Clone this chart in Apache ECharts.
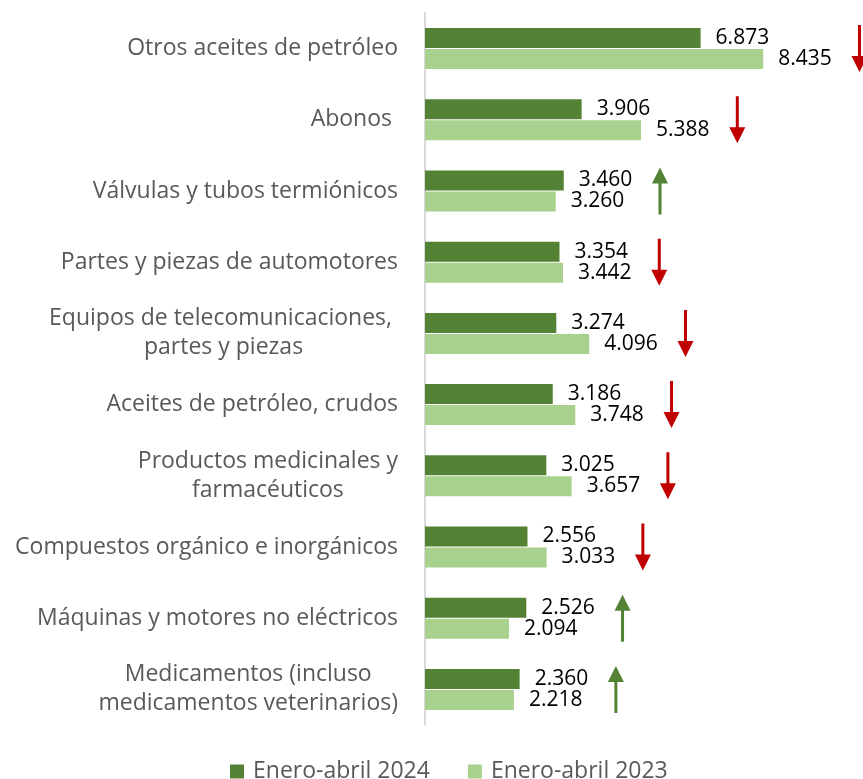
<!DOCTYPE html>
<html>
<head>
<meta charset="utf-8">
<script src="https://cdn.jsdelivr.net/npm/echarts@6/dist/echarts.min.js"></script>
<style>
  html, body { margin: 0; padding: 0; background: #fff; }
  #main { width: 863px; height: 779px; }
</style>
</head>
<body>
<div id="main"></div>
<script>
// datos (millones), de arriba hacia abajo
var categorias = [
  'Otros aceites de petróleo',
  'Abonos ',
  'Válvulas y tubos termiónicos',
  'Partes y piezas de automotores',
  'Equipos de telecomunicaciones, \npartes y piezas',
  'Aceites de petróleo, crudos',
  'Productos medicinales y\nfarmacéuticos',
  'Compuestos orgánico e inorgánicos',
  'Máquinas y motores no eléctricos',
  'Medicamentos (incluso\nmedicamentos veterinarios)'
];
var valores2024 = [6873, 3906, 3460, 3354, 3274, 3186, 3025, 2556, 2526, 2360];
var valores2023 = [8435, 5388, 3260, 3442, 4096, 3748, 3657, 3033, 2094, 2218];
var nombres = ['Enero-abril 2024', 'Enero-abril 2023'];

var verdeOscuro = '#548235';
var verdeClaro = '#A9D18E';
var rojo = '#C00000';

function fmt(v) {
  return String(v).replace(/\B(?=(\d{3})+(?!\d))/g, '.');
}

// flechas: sube (verde) o baja (rojo) respecto a 2023
var flecha = 'path://M8,0 L16,16 L9.5,16 L9.5,47 L6.5,47 L6.5,16 L0,16 Z';
var flechas = categorias.map(function (c, i) {
  var sube = valores2024[i] > valores2023[i];
  return {
    value: [Math.max(valores2024[i], valores2023[i]) + 2400, i],
    symbolRotate: sube ? 0 : 180,
    itemStyle: { color: sube ? verdeOscuro : rojo, opacity: 1 }
  };
});

var myChart = echarts.init(document.getElementById('main'));
myChart.setOption({
  animation: false,
  grid: { left: 425, right: 37, top: 13, bottom: 54, containLabel: false },
  legend: {
    data: nombres,
    bottom: -9,
    left: 225,
    itemWidth: 14,
    itemHeight: 14,
    itemGap: 38,
    icon: 'rect',
    textStyle: { color: '#595959', fontSize: 23, fontFamily: 'Open Sans', padding: [0, 0, 0, 4] }
  },
  xAxis: {
    type: 'value',
    min: 0,
    max: 10000,
    show: false,
    splitLine: { show: false }
  },
  yAxis: {
    type: 'category',
    inverse: true,
    data: categorias,
    axisTick: { show: false },
    axisLine: { lineStyle: { color: '#D9D9D9', width: 2 } },
    axisLabel: {
      margin: 27,
      color: '#595959',
      fontSize: 23,
      fontFamily: 'Open Sans',
      lineHeight: 29,
      formatter: function (v) {
        return v.split('\n').map(function (s) { return '{c|' + s + '}'; }).join('\n');
      },
      rich: { c: { align: 'center', fontSize: 23, fontFamily: 'Open Sans', color: '#595959', lineHeight: 29 } }
    }
  },
  series: [
    {
      name: nombres[0],
      type: 'bar',
      data: valores2024,
      barWidth: 20,
      barGap: '5%',
      itemStyle: { color: verdeOscuro },
      label: {
        show: true, position: 'right', distance: 15,
        color: '#000', fontSize: 21, fontFamily: 'Open Sans',
        formatter: function (p) { return fmt(p.value); }
      }
    },
    {
      name: nombres[1],
      type: 'bar',
      data: valores2023,
      barWidth: 20,
      itemStyle: { color: verdeClaro },
      label: {
        show: true, position: 'right', distance: 15,
        color: '#000', fontSize: 21, fontFamily: 'Open Sans',
        formatter: function (p) { return fmt(p.value); }
      }
    },
    {
      type: 'scatter',
      data: flechas,
      symbol: flecha,
      symbolSize: [16, 47],
      clip: false,
      silent: true,
      z: 5
    }
  ]
});
</script>
</body>
</html>
